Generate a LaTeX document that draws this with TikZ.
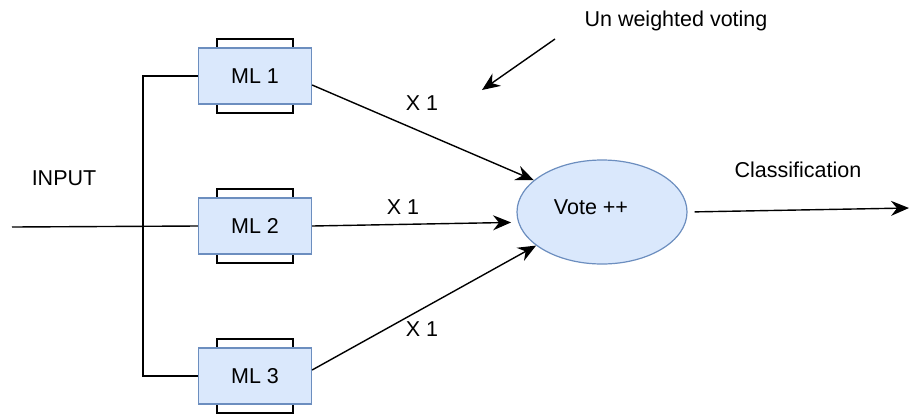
\documentclass[tikz,border=0pt]{standalone}
\usepackage{fontspec}
\setmainfont{Liberation Sans}
\usetikzlibrary{shapes.geometric,arrows.meta,calc}
\definecolor{mlfill}{HTML}{DAE8FC}
\definecolor{mlline}{HTML}{6C8EBF}
\begin{document}
\begin{tikzpicture}[x=1pt,y=-1pt,
    font=\fontsize{21.5}{25}\selectfont,
    mlback/.style={draw, fill=white, line width=1.4pt, minimum width=76pt, minimum height=74pt},
    mlbox/.style={draw=mlline, fill=mlfill, line width=1.2pt, minimum width=113pt, minimum height=56pt},
    vote/.style={ellipse, draw=mlline, fill=mlfill, line width=1.2pt, minimum width=170pt, minimum height=104pt},
    wire/.style={line width=1.4pt},
    tip/.style={line width=1.4pt, -{Stealth[length=18pt,width=15pt,inset=6pt]}}]

   \useasboundingbox (0,0) rectangle (910,416);

   % learners, each one a box over a wider backing plate
   \node[mlback] at (255,76)  (ml1b) {};
   \node[mlback] at (255,226) (ml2b) {};
   \node[mlback] at (255,376) (ml3b) {};
   \node[mlbox] at (255,76)  (ml1) {ML 1};
   \node[mlbox] at (255,226) (ml2) {ML 2};
   \node[mlbox] at (255,376) (ml3) {ML 3};

   \node[vote] at (602,212) (vote) {Vote ++\hspace{22pt}\rule[-10pt]{0pt}{0pt}};

   \node[] at (64,178)  (inp)   {INPUT};
   \node[] at (798,170) (cls)   {Classification};
   \node[] at (676,21)  (uw)    {Un weighted voting};

   \coordinate (in)  at (12,227);
   \coordinate (bus) at (143,226);
   \coordinate (out) at (909,208);
   \coordinate (uwa) at (555,39);
   \coordinate (uwb) at (482,90);

   % input fan-out
   \draw[wire] (in) -- (ml2.west);
   \draw[wire] (ml1.west) -| (bus) |- (ml3.west);

   % votes
   \draw[tip] ($(ml1.east)+(0,9)$) to (vote.155);
   \draw[tip, shorten >=7pt] (ml2.east) to (vote.187);
   \draw[tip] ($(ml3.east)+(0,-6)$) to (vote.207);
   \draw[tip, shorten <=7pt] (vote.east) to (out);
   \draw[tip] (uwa) to (uwb);

%Weight labels
   \node[] at (422,103) (w1) {X 1};
   \node[] at (403,207) (w2) {X 1};
   \node[] at (422,329) (w3) {X 1};

\end{tikzpicture}
\end{document}
